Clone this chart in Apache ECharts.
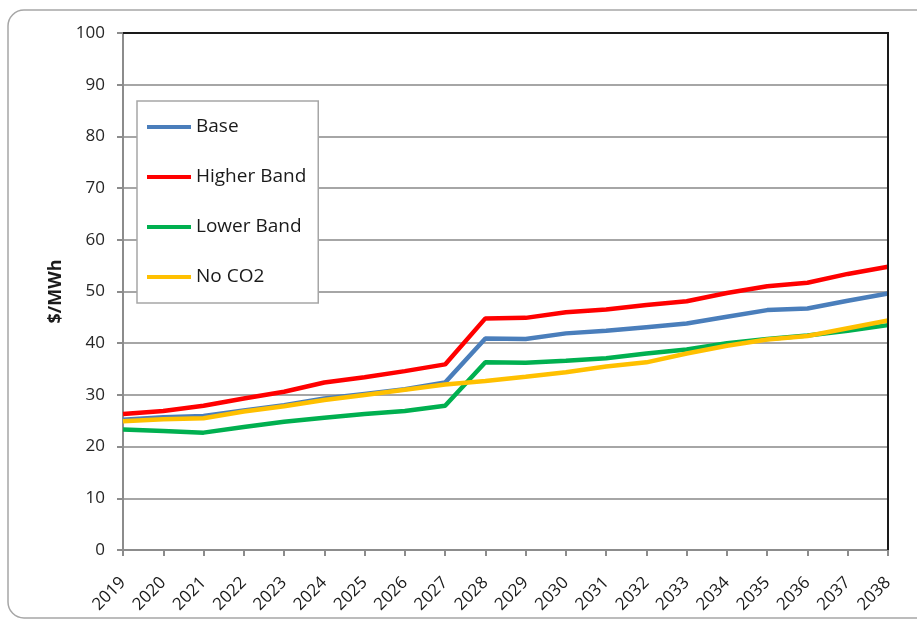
<!DOCTYPE html>
<html>
<head>
<meta charset="utf-8">
<script src="https://cdn.jsdelivr.net/npm/echarts@6/dist/echarts.min.js"></script>
<style>
  html, body { margin: 0; padding: 0; background: #fff; }
  #chart { width: 917px; height: 621px; }
</style>
</head>
<body>
<div id="chart"></div>
<script>
// Wholesale power price projections, $/MWh
const years = ['2019','2020','2021','2022','2023','2024','2025','2026','2027','2028',
               '2029','2030','2031','2032','2033','2034','2035','2036','2037','2038'];
const base       = [25.2, 25.7, 25.9, 27.0, 28.0, 29.3, 30.2, 31.1, 32.4, 40.9,
                    40.8, 41.9, 42.4, 43.1, 43.8, 45.1, 46.4, 46.7, 48.2, 49.6];
const higherBand = [26.3, 26.9, 27.9, 29.3, 30.6, 32.4, 33.4, 34.6, 35.9, 44.8,
                    44.9, 46.0, 46.5, 47.4, 48.1, 49.7, 51.0, 51.7, 53.4, 54.8];
const lowerBand  = [23.3, 23.0, 22.7, 23.8, 24.8, 25.6, 26.3, 26.9, 27.9, 36.3,
                    36.2, 36.6, 37.1, 38.0, 38.8, 40.0, 40.8, 41.5, 42.4, 43.5];
const noCO2      = [24.9, 25.3, 25.5, 26.8, 27.8, 29.0, 30.0, 31.0, 32.0, 32.7,
                    33.5, 34.4, 35.5, 36.3, 38.0, 39.5, 40.7, 41.4, 42.9, 44.4];

const FONT = '"Open Sans", "Liberation Sans", sans-serif';

const chart = echarts.init(document.getElementById('chart'), null, { renderer: 'canvas' });

function line(name, data, color) {
  return {
    name, type: 'line', data, symbol: 'none', animation: false,
    lineStyle: { color, width: 4.5 }, itemStyle: { color }
  };
}

chart.setOption({
  backgroundColor: '#ffffff',
  animation: false,
  textStyle: { fontFamily: FONT },
  graphic: [
    {
      type: 'rect', z: -10, silent: true,
      shape: { x: 8, y: 10, width: 930, height: 608, r: 16 },
      style: { fill: 'none', stroke: '#a6a6a6', lineWidth: 1.5 }
    },
    {
      // plot-area frame (top and right edges)
      type: 'polyline', z: 100, silent: true,
      shape: { points: [[123, 33], [888, 33], [888, 550]] },
      style: { fill: 'none', stroke: '#1a1a1a', lineWidth: 2 }
    }
  ],
  grid: { left: 123, right: 29, top: 33, bottom: 71, containLabel: false },
  legend: {
    orient: 'vertical',
    left: 137, top: 101,
    padding: [16, 12, 16, 10],
    itemGap: 30,
    itemWidth: 44, itemHeight: 4,
    icon: 'rect',
    borderColor: '#a6a6a6', borderWidth: 1.5,
    backgroundColor: '#ffffff',
    textStyle: { fontFamily: FONT, fontSize: 19, color: '#1a1a1a', lineHeight: 20, padding: [0, 0, 0, 0] },
    data: ['Base', 'Higher Band', 'Lower Band', 'No CO2']
  },
  xAxis: {
    type: 'category', data: years, boundaryGap: false,
    axisLine: { lineStyle: { color: '#8c8c8c', width: 2 } },
    axisTick: { show: true, length: 6, alignWithLabel: true, lineStyle: { color: '#8c8c8c', width: 2 } },
    axisLabel: { rotate: 45, fontSize: 17, color: '#1a1a1a', margin: 30, fontFamily: FONT, interval: 0, hideOverlap: false },
    splitLine: { show: false }
  },
  yAxis: {
    type: 'value', min: 0, max: 100, interval: 10,
    name: '$/MWh', nameLocation: 'middle', nameGap: 55,
    nameTextStyle: { fontSize: 18, fontWeight: 'bold', color: '#1a1a1a', fontFamily: FONT },
    axisLine: { show: true, lineStyle: { color: '#8c8c8c', width: 2 } },
    axisTick: { show: true, length: 6, lineStyle: { color: '#8c8c8c', width: 2 } },
    axisLabel: { fontSize: 17, color: '#262626', margin: 18, fontFamily: FONT },
    splitLine: { show: true, lineStyle: { color: '#a6a6a6', width: 2 } }
  },
  series: [
    line('Base', base, '#4a7ebb'),
    line('Higher Band', higherBand, '#ff0000'),
    line('Lower Band', lowerBand, '#00b050'),
    line('No CO2', noCO2, '#ffc000')
  ]
});
</script>
</body>
</html>
